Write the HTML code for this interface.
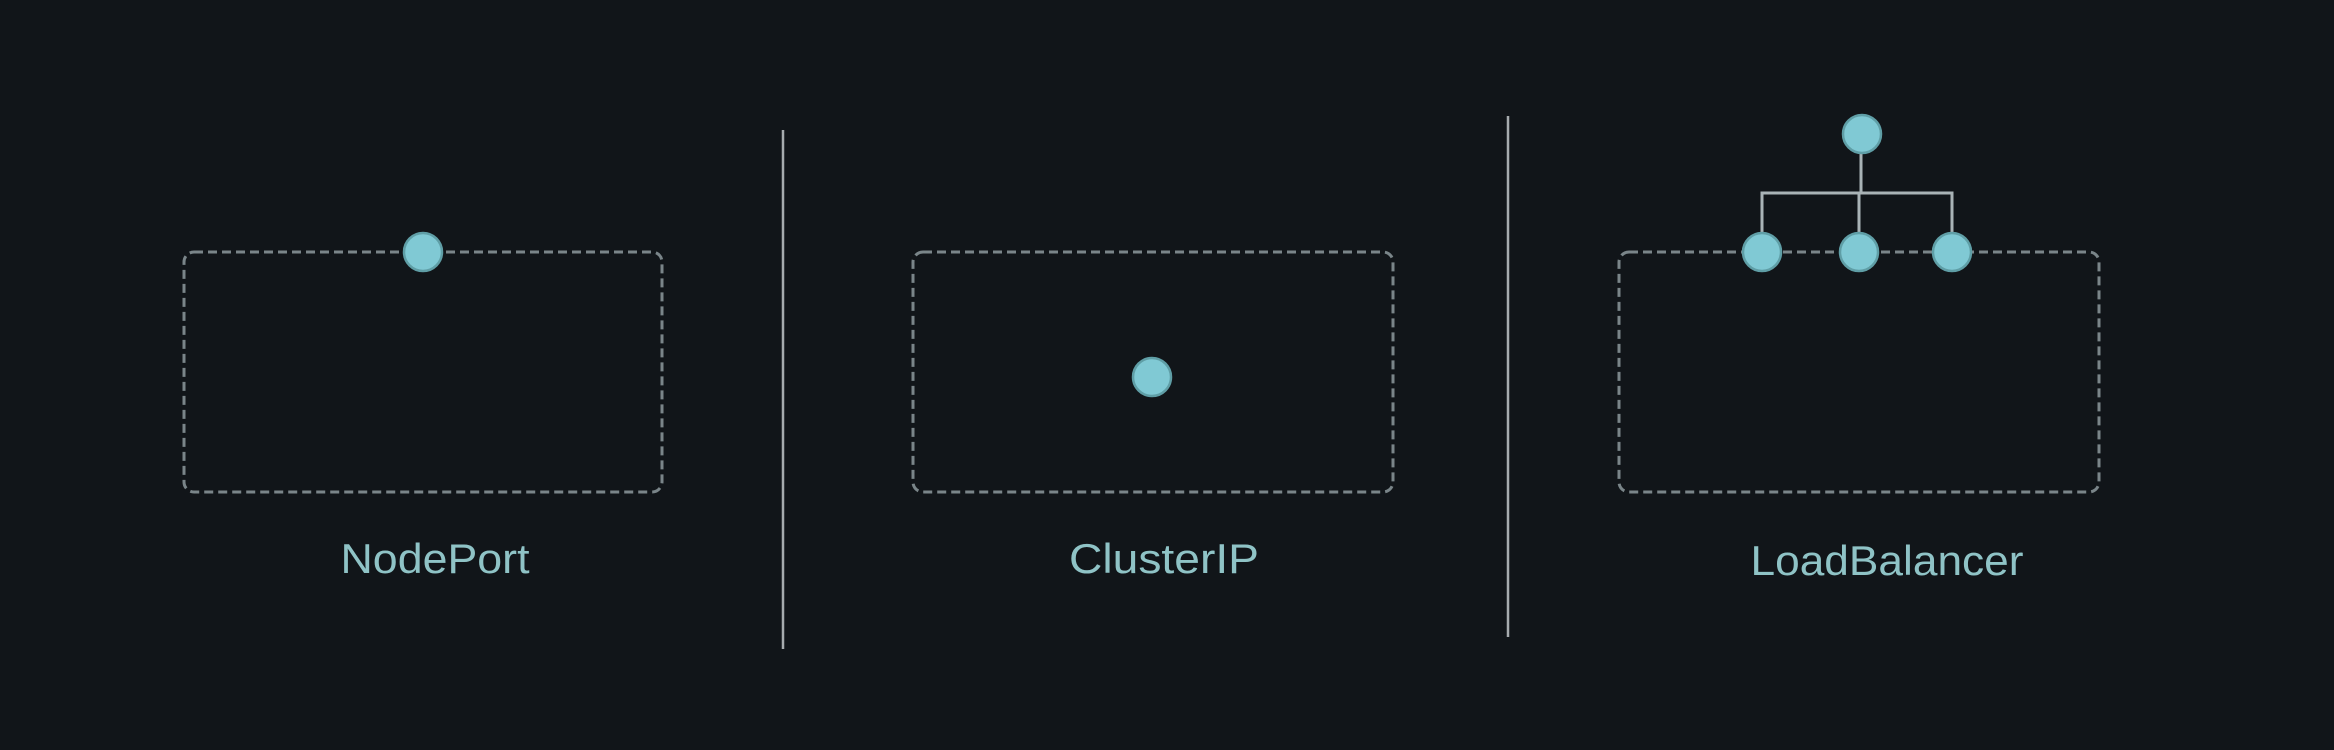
<!DOCTYPE html>
<html><head><meta charset="utf-8"><style>html,body{margin:0;padding:0;background:#111519;}svg{display:block}</style></head>
<body>
<svg width="2334" height="750" viewBox="0 0 2334 750" xmlns="http://www.w3.org/2000/svg">
<rect width="2334" height="750" fill="#111519"/>
<g fill="none" stroke="#7a8589" stroke-width="3" stroke-dasharray="9,5">
<rect x="184" y="252" width="478" height="240" rx="10"/>
<rect x="913" y="252" width="480" height="240" rx="10"/>
<rect x="1619" y="252" width="480" height="240" rx="10"/>
</g>
<g stroke="#a6abae" stroke-width="2.5">
<line x1="783" y1="130" x2="783" y2="649"/>
<line x1="1508" y1="116" x2="1508" y2="637"/>
</g>
<g fill="none" stroke="#a9b3b6" stroke-width="3">
<line x1="1861" y1="134" x2="1861" y2="193"/>
<polyline points="1762,252 1762,193 1952,193 1952,252"/>
<line x1="1859" y1="193" x2="1859" y2="252"/>
</g>
<g fill="#80c9d4" stroke="#5f9ea6" stroke-width="2.5">
<circle cx="423" cy="252" r="19"/>
<circle cx="1152" cy="377" r="19"/>
<circle cx="1862" cy="134" r="19"/>
<circle cx="1762" cy="252" r="19"/>
<circle cx="1859" cy="252" r="19"/>
<circle cx="1952" cy="252" r="19"/>
</g>
<g font-family="'Liberation Sans', sans-serif" font-size="42" fill="#8fc3c6" text-anchor="middle">
<text x="435" y="573" textLength="189" lengthAdjust="spacingAndGlyphs">NodePort</text>
<text x="1164" y="573" textLength="190" lengthAdjust="spacingAndGlyphs">ClusterIP</text>
<text x="1887" y="575" textLength="273" lengthAdjust="spacingAndGlyphs">LoadBalancer</text>
</g>
</svg>
</body></html>
